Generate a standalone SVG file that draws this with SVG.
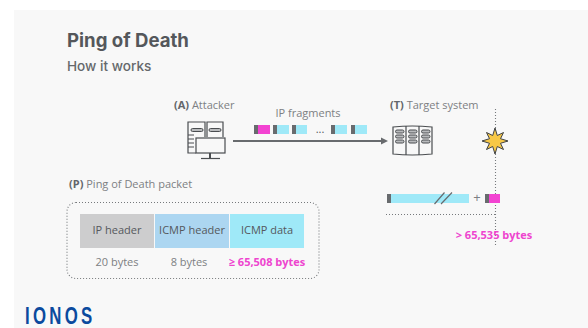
<svg xmlns="http://www.w3.org/2000/svg" width="588" height="328" viewBox="0 0 588 328">
<style>
.t{font-family:"Open Sans","Noto Sans",sans-serif;fill:#7d8083;font-size:11px}
.b{font-weight:700;fill:#63666a}
.d{font-family:"Open Sans","Noto Sans",sans-serif;fill:#55585c;font-size:11px;text-anchor:middle}
.p{font-family:"Open Sans","Noto Sans",sans-serif;fill:#ee45cf;font-size:11px;font-weight:700}
.s{fill:none;stroke:#4a4d50;stroke-width:1.200}
.pill{fill:#b9bbbd;stroke:#4a4d50;stroke-width:1}
.dot{fill:none;stroke:#76797c;stroke-width:1.100;stroke-dasharray:1 2}
.c{fill:#9fe9f8}.m{fill:#f343d2}.g{fill:#686b6e}
</style>
<rect x="14" y="10" width="574" height="318" fill="#f8f8f8"/>
<g id="title">
<text x="67" y="46.500" font-family="Inter,'Noto Sans',sans-serif" font-size="18.600" font-weight="700" fill="#54575b">Ping of Death</text>
<text x="67" y="70.500" font-family="Inter,'Noto Sans',sans-serif" font-size="13.600" font-weight="500" fill="#65686b">How it works</text>
</g>
<g id="attacker">
<text x="174" y="109" class="t"><tspan class="b">(A)</tspan> Attacker</text>
<path class="s" d="M196 153H188V122H205V137M207 137V122H223V137"/>
<rect class="pill" x="191" y="128.500" width="12" height="3" rx="1.500"/>
<rect class="pill" x="209" y="128.500" width="12" height="3" rx="1.500"/>
<path class="s" d="M188 135H194M188 139H194M188 143H194M188 147H194"/>
<rect class="s" x="196" y="138" width="29" height="15" style="fill:#f8f8f8"/>
<path class="s" d="M210 153V158" style="stroke-width:2"/>
<path class="s" d="M201 158.500H220"/>
</g>
<g id="target">
<text x="390" y="109" class="t"><tspan class="b">(T)</tspan> Target system</text>
<path class="s" d="M393 127Q412 125 432 127V154Q412 156 393 154Z"/>
<path class="s" d="M406 126V155M419 126V155"/>
<rect class="pill" x="395.500" y="130" width="8.500" height="3" rx="1.500"/>
<rect class="pill" x="395.500" y="135" width="8.500" height="3" rx="1.500"/>
<rect class="pill" x="395.500" y="140" width="8.500" height="3" rx="1.500"/>
<rect class="pill" x="408.500" y="130" width="8.500" height="3" rx="1.500"/>
<rect class="pill" x="408.500" y="135" width="8.500" height="3" rx="1.500"/>
<rect class="pill" x="408.500" y="140" width="8.500" height="3" rx="1.500"/>
<rect class="pill" x="421.500" y="130" width="8.500" height="3" rx="1.500"/>
<rect class="pill" x="421.500" y="135" width="8.500" height="3" rx="1.500"/>
<rect class="pill" x="421.500" y="140" width="8.500" height="3" rx="1.500"/>
</g>
<g id="connectors">
<text x="308" y="117" class="t" text-anchor="middle">IP fragments</text>
<path d="M233 141H381" stroke="#686b6e" stroke-width="2"/>
<path d="M381 137.500L388 141L381 144.500Z" fill="#686b6e"/>
<path class="dot" d="M495.500 109V247"/>
<path class="dot" d="M386 214.500H496"/>
</g>
<g id="fragments">
<rect x="254" y="125" width="4" height="9" class="g"/><rect x="258" y="125" width="12" height="9" class="m"/>
<rect x="273" y="125" width="4" height="9" class="g"/><rect x="277" y="125" width="12" height="9" class="c"/>
<rect x="292" y="125" width="4" height="9" class="g"/><rect x="296" y="125" width="11" height="9" class="c"/>
<text x="320" y="133" class="t" text-anchor="middle" style="fill:#55585c">...</text>
<rect x="331" y="125" width="4" height="9" class="g"/><rect x="335" y="125" width="12" height="9" class="c"/>
<rect x="351" y="125" width="4" height="9" class="g"/><rect x="355" y="125" width="12" height="9" class="c"/>
</g>
<g id="explosion">
<path d="M495 128L497.300 135.500L503.500 132.500L500.500 138.700L508 141L500.500 143.300L503.500 149.500L497.300 146.500L495 154L492.700 146.500L486.500 149.500L489.500 143.300L482 141L489.500 138.700L486.500 132.500L492.700 135.500Z" fill="#f7c847" stroke="#3f4245" stroke-width="1"/>
</g>
<g id="overflow">
<rect x="387" y="194" width="4" height="9" class="g"/><rect x="391" y="194" width="78" height="9" class="c"/>
<path d="M434.500 204L444.500 192.500M441 204L452 192.500" stroke="#686b6e" stroke-width="1.200"/>
<text x="477" y="201.500" class="t" text-anchor="middle" style="font-size:13px">+</text>
<rect x="485" y="194" width="4" height="9" class="g"/><rect x="489" y="194" width="11" height="9" class="m"/>
<text x="494" y="239" class="p" text-anchor="middle">&gt; 65,535 bytes</text>
</g>
<g id="packet">
<text x="69" y="188" class="t"><tspan class="b">(P)</tspan> Ping of Death packet</text>
<rect x="67" y="202.500" width="252" height="76" rx="9" class="dot"/>
</g>
<g id="ip-header">
<rect x="80" y="214" width="74" height="34" fill="#cdcdce"/>
<text x="117" y="234" class="d">IP header</text>
<text x="117" y="266" class="t" text-anchor="middle">20 bytes</text>
</g>
<g id="icmp-header">
<rect x="155" y="214" width="74" height="34" fill="#acd6f1"/>
<text x="192" y="234" class="d">ICMP header</text>
<text x="189" y="266" class="t" text-anchor="middle">8 bytes</text>
</g>
<g id="icmp-data">
<rect x="230" y="214" width="74" height="34" class="c"/>
<text x="267" y="234" class="d">ICMP data</text>
<text x="267" y="266" class="p" text-anchor="middle">≥ 65,508 bytes</text>
</g>
<g id="logo">
<text x="0" y="324" font-family="'Liberation Sans',sans-serif" font-size="24" font-weight="700" textLength="96" lengthAdjust="spacing" fill="#0b4a9e" transform="translate(25 0) scale(.7 1)">IONOS</text>
</g>
</svg>
